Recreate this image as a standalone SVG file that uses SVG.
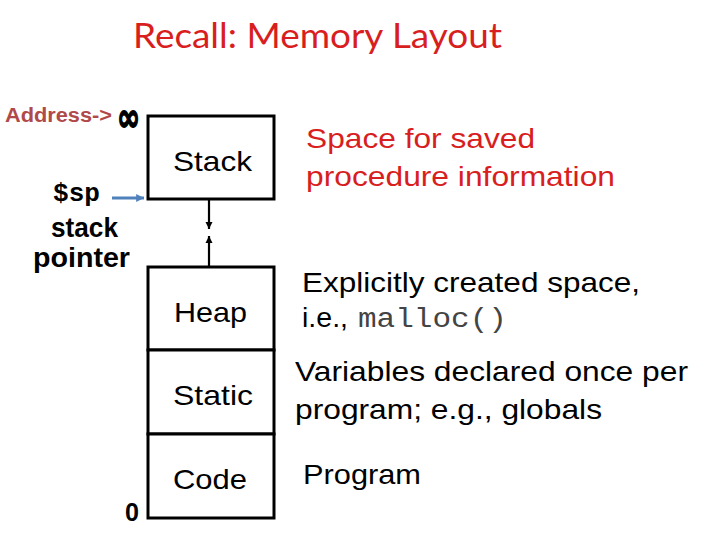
<svg xmlns="http://www.w3.org/2000/svg" width="720" height="540" viewBox="0 0 720 540">
<style>
.t{font-family:"Liberation Sans",Arial,sans-serif;}
.box{fill:#fff;stroke:#000;stroke-width:3;}
.lbl{font-family:"Liberation Sans",Arial,sans-serif;font-size:28px;fill:#000;}
.desc{font-family:"Liberation Sans",Arial,sans-serif;font-size:28px;fill:#000;}
.red{fill:#d81e1e;}
.side{font-family:"Liberation Sans",Arial,sans-serif;font-weight:bold;font-size:27px;fill:#000;}
</style>
<defs>
<marker id="ah" viewBox="0 0 10 10" refX="10" refY="5" markerWidth="3.2" markerHeight="3.2" orient="auto" markerUnits="strokeWidth">
<path d="M0,0 L10,5 L0,10 z" fill="#000"/>
</marker>
<marker id="ahb" viewBox="0 0 10 10" refX="10" refY="5" markerWidth="2.6" markerHeight="2.6" orient="auto" markerUnits="strokeWidth">
<path d="M0,0 L10,5 L0,10 z" fill="#4f81bd"/>
</marker>
</defs>
<rect width="720" height="540" fill="#fff"/>
<text id="title" x="133" y="48" font-family="Lato,'Open Sans',sans-serif" font-size="35" fill="#d81e1e" textLength="369" lengthAdjust="spacingAndGlyphs">Recall: Memory Layout</text>

<g id="address">
<text x="5" y="122" class="t" font-weight="bold" font-size="20" fill="#b04a4a" textLength="107" lengthAdjust="spacingAndGlyphs">Address-&gt;</text>
<text x="117" y="131" font-family="'DejaVu Sans',sans-serif" font-weight="bold" font-size="40" fill="#000" stroke="#000" stroke-width="1.6" textLength="23" lengthAdjust="spacingAndGlyphs">∞</text>
</g>
<g id="sp">
<text x="53" y="201" font-family="'Liberation Mono','Courier New',monospace" font-weight="bold" font-size="26" fill="#000" textLength="47" lengthAdjust="spacingAndGlyphs">$sp</text>
<text x="51" y="237" class="side" textLength="67" lengthAdjust="spacingAndGlyphs">stack</text>
<text x="33" y="267" class="side" textLength="97" lengthAdjust="spacingAndGlyphs">pointer</text>
</g>
<g id="zero">
<text x="125" y="521" class="t" font-weight="bold" font-size="25" fill="#000" textLength="14" lengthAdjust="spacingAndGlyphs">0</text>
</g>

<g id="stack">
<rect class="box" x="148" y="116" width="126" height="83"/>
<text class="lbl" x="173" y="171" textLength="79" lengthAdjust="spacingAndGlyphs">Stack</text>
</g>
<g id="heap">
<rect class="box" x="148" y="267" width="126" height="83"/>
<text class="lbl" x="174" y="322" textLength="73" lengthAdjust="spacingAndGlyphs">Heap</text>
</g>
<g id="static">
<rect class="box" x="148" y="350" width="126" height="84"/>
<text class="lbl" x="173" y="405" textLength="80" lengthAdjust="spacingAndGlyphs">Static</text>
</g>
<g id="code">
<rect class="box" x="148" y="434" width="126" height="84"/>
<text class="lbl" x="173" y="489" textLength="74" lengthAdjust="spacingAndGlyphs">Code</text>
</g>

<g id="connectors">
<line x1="209" y1="200" x2="209" y2="229" stroke="#000" stroke-width="2.2" marker-end="url(#ah)"/>
<line x1="209" y1="266" x2="209" y2="236" stroke="#000" stroke-width="2.2" marker-end="url(#ah)"/>
<line x1="112" y1="198" x2="144" y2="198" stroke="#4f81bd" stroke-width="3" marker-end="url(#ahb)"/>
</g>

<g id="descriptions">
<text class="desc red" x="306" y="148" textLength="229" lengthAdjust="spacingAndGlyphs">Space for saved</text>
<text class="desc red" x="306" y="186" textLength="309" lengthAdjust="spacingAndGlyphs">procedure information</text>
<text class="desc" x="302" y="292" textLength="338" lengthAdjust="spacingAndGlyphs">Explicitly created space,</text>
<text class="desc" x="302" y="327" textLength="46" lengthAdjust="spacingAndGlyphs">i.e.,</text>
<text x="358" y="327" font-family="'Liberation Mono','Courier New',monospace" font-size="27" fill="#444" textLength="149" lengthAdjust="spacingAndGlyphs">malloc()</text>
<text class="desc" x="295" y="381" textLength="393" lengthAdjust="spacingAndGlyphs">Variables declared once per</text>
<text class="desc" x="295" y="419" textLength="307" lengthAdjust="spacingAndGlyphs">program; e.g., globals</text>
<text class="desc" x="303" y="484" textLength="118" lengthAdjust="spacingAndGlyphs">Program</text>
</g>
</svg>
